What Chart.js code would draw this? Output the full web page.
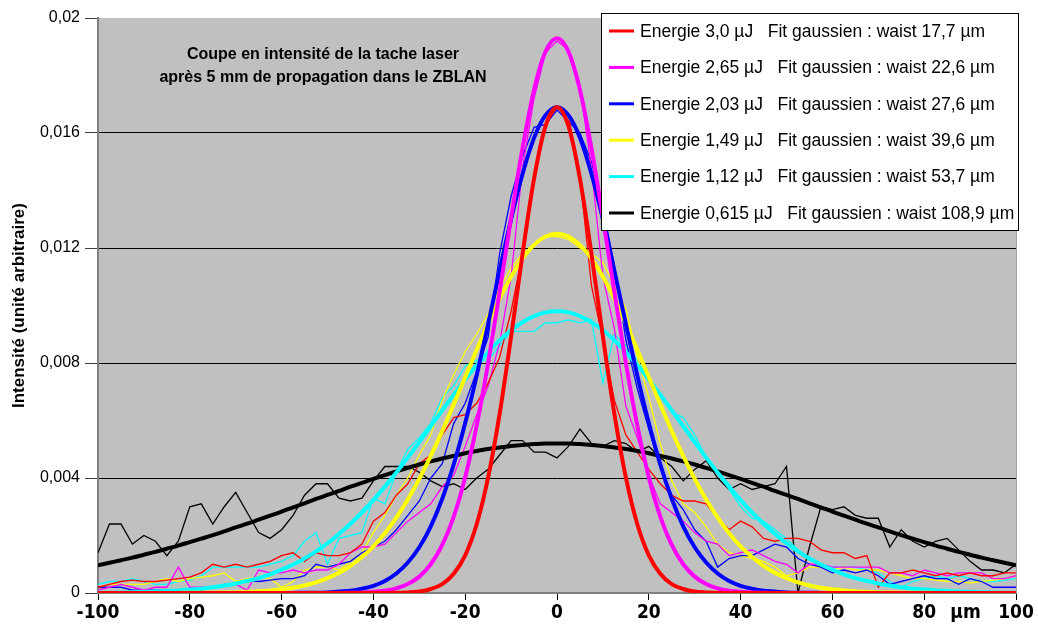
<!DOCTYPE html>
<html>
<head>
<meta charset="utf-8">
<script src="https://cdn.jsdelivr.net/npm/chart.js@4"></script>
<style>
  html, body { margin: 0; padding: 0; background: #ffffff; }
  #wrap { width: 1038px; height: 640px; }
</style>
</head>
<body>
<div id="wrap"><canvas id="profile-chart"></canvas></div>
<script>
// transverse positions (µm), shared by every curve
const positions = [
  -100, -97.5, -95, -92.5, -90, -87.5, -85, -82.5, -80, -77.5,
  -75, -72.5, -70, -67.5, -65, -62.5, -60, -57.5, -55, -52.5,
  -50, -47.5, -45, -42.5, -40, -37.5, -35, -32.5, -30, -27.5,
  -25, -22.5, -20, -17.5, -15, -12.5, -10, -7.5, -5, -2.5,
  0,
  2.5, 5, 7.5, 10, 12.5, 15, 17.5, 20, 22.5, 25,
  27.5, 30, 32.5, 35, 37.5, 40, 42.5, 45, 47.5, 50,
  52.5, 55, 57.5, 60, 62.5, 65, 67.5, 70, 72.5, 75,
  77.5, 80, 82.5, 85, 87.5, 90, 92.5, 95, 97.5, 100
];

const energyLabels = ["Energie 3,0 µJ", "Energie 2,65 µJ", "Energie 2,03 µJ", "Energie 1,49 µJ", "Energie 1,12 µJ", "Energie 0,615 µJ"];
const fitLabels = ["Fit gaussien : waist 17,7 µm", "Fit gaussien : waist 22,6 µm", "Fit gaussien : waist 27,6 µm", "Fit gaussien : waist 39,6 µm", "Fit gaussien : waist 53,7 µm", "Fit gaussien : waist 108,9 µm"];
const seriesColors = ["#ff0000", "#ff00ff", "#0000ff", "#ffff00", "#00ffff", "#000000"];
const yTickLabels = ["0", "0,004", "0,008", "0,012", "0,016", "0,02"];
const titleLines = ["Coupe en intensité de la tache laser", "après 5 mm de propagation dans le ZBLAN"];
const xUnitLabel = "µm";
const yAxisTitle = "Intensité (unité arbitraire)";

// measured profiles
const redData = [
  0.0002, 0.0003, 0.0004, 0.00045, 0.0004, 0.0004, 0.00045, 0.0005, 0.00055, 0.0007,
  0.001, 0.0009, 0.001, 0.0009, 0.001, 0.0011, 0.0013, 0.0014, 0.0011, 0.0014,
  0.0013, 0.0013, 0.0014, 0.0017, 0.0025, 0.0028, 0.0034, 0.0038, 0.0045, 0.0048,
  0.0055, 0.0061, 0.0062, 0.0066, 0.0073, 0.0082, 0.0098, 0.0118, 0.0143, 0.0163,
  0.0169,
  0.0166, 0.0145, 0.0107, 0.0088, 0.0067, 0.0055, 0.0049, 0.0043, 0.0038, 0.0034,
  0.0032, 0.0032, 0.0031, 0.0026, 0.0022, 0.0025, 0.0023, 0.0019, 0.0018, 0.0019,
  0.0019, 0.0018, 0.0015, 0.0014, 0.0014, 0.0012, 0.0013, 0.0002, 0.0007, 0.0007,
  0.0008, 0.0007, 0.0006, 0.0007, 0.0006, 0.0007, 0.0006, 0.0006, 0.0007, 0.0007
];
const magentaData = [
  0.0001, 0.0002, 0.0003, 0.0002, 0.0001, 0.0002, 0.0002, 0.0009, 0.0002, 0.0002,
  0.0002, 0.0003, 0.0003, 0.0001, 0.0008, 0.0007, 0.0007, 0.0008, 0.0007, 0.0008,
  0.0008, 0.001, 0.0014, 0.0016, 0.0016, 0.0017, 0.0021, 0.0025, 0.0028, 0.0031,
  0.0037, 0.0041, 0.0051, 0.0062, 0.0072, 0.0087, 0.011, 0.0148, 0.0172, 0.0188,
  0.0192,
  0.0189, 0.0176, 0.0148, 0.011, 0.0092, 0.0065, 0.0054, 0.0041, 0.0031, 0.0028,
  0.0025, 0.0021, 0.0018, 0.0017, 0.0013, 0.0014, 0.0015, 0.0013, 0.0011, 0.001,
  0.0007, 0.001, 0.001, 0.0009, 0.0009, 0.0009, 0.0009, 0.0009, 0.0007, 0.0007,
  0.0006, 0.0008, 0.0007, 0.0006, 0.0007, 0.0007, 0.0007, 0.0005, 0.0005, 0.0006
];
const blueData = [
  0.0002, 0.0002, 0.0002, 0.0001, 0.0001, 0.0001, 0.0001, 0.0001, 0.0001, 0.0001,
  0.0002, 0.0003, 0.0003, 0.00045, 0.0004, 0.00045, 0.0005, 0.0005, 0.0006, 0.001,
  0.0009, 0.001, 0.0011, 0.0014, 0.0016, 0.0018, 0.0022, 0.0027, 0.0032, 0.004,
  0.0045, 0.0059, 0.0066, 0.0077, 0.0089, 0.0118, 0.0138, 0.0152, 0.0162, 0.0163,
  0.0168,
  0.0164, 0.016, 0.015, 0.0134, 0.0114, 0.0088, 0.0071, 0.0057, 0.0044, 0.0034,
  0.0029, 0.0022, 0.0018, 0.0009, 0.0012, 0.0013, 0.0013, 0.0015, 0.0017, 0.0016,
  0.0012, 0.001, 0.0009, 0.0007, 0.0008, 0.0007, 0.0008, 0.0006, 0.0003, 0.0004,
  0.0005, 0.0006, 0.0005, 0.0005, 0.0003, 0.0005, 0.0004, 0.0002, 0.0002, 0.0002
];
const yellowData = [
  0.0002, 0.0003, 0.0003, 0.0003, 0.0003, 0.0004, 0.0005, 0.0004, 0.0005, 0.00055,
  0.0006, 0.0007, 0.0004, 0.0005, 0.00055, 0.0005, 0.0002, 0.0004, 0.0008, 0.0009,
  0.0009, 0.0008, 0.0011, 0.0014, 0.0021, 0.0027, 0.0034, 0.004, 0.0048, 0.0055,
  0.0067, 0.0076, 0.0084, 0.009, 0.0097, 0.0106, 0.0113, 0.0118, 0.0121, 0.0124,
  0.0124,
  0.0123, 0.012, 0.0118, 0.0115, 0.0107, 0.0099, 0.0082, 0.0068, 0.0052, 0.0039,
  0.0031, 0.0028, 0.0023, 0.0017, 0.0014, 0.0013, 0.0012, 0.0011, 0.0009, 0.0006,
  0.0007, 0.0009, 0.0009, 0.0008, 0.0009, 0.0008, 0.0008, 0.0008, 0.0007, 0.0006,
  0.0005, 0.0005, 0.00045, 0.0004, 0.0004, 0.00035, 0.0004, 0.00045, 0.0005, 0.0006
];
const cyanData = [
  0.0003, 0.0004, 0.0004, 0.0005, 0.0004, 0.0003, 0.0003, 0.0004, 0.00045, 0.0006,
  0.0009, 0.0009, 0.0009, 0.0009, 0.0009, 0.001, 0.0011, 0.0013, 0.0018, 0.0021,
  0.001, 0.0019, 0.002, 0.0021, 0.0033, 0.0031, 0.0042, 0.005, 0.0054, 0.0059,
  0.0068, 0.0072, 0.0079, 0.0081, 0.0081, 0.0086, 0.0091, 0.0091, 0.0091, 0.0094,
  0.0094,
  0.0095, 0.0094, 0.0095, 0.0073, 0.009, 0.0086, 0.0081, 0.0074, 0.0069, 0.0063,
  0.0061, 0.0055, 0.0047, 0.0042, 0.0036, 0.003, 0.0026, 0.0025, 0.0022, 0.0019,
  0.0015, 0.0012, 0.001, 0.0009, 0.0009, 0.0009, 0.0008, 0.0007, 0.0004, 0.0002,
  0.0004, 0.0005, 0.0006, 0.0005, 0.0006, 0.0005, 0.0004, 0.0004, 0.00045, 0.0005
];
const blackData = [
  0.0014, 0.0024, 0.0024, 0.0017, 0.002, 0.0018, 0.0013, 0.0018, 0.003, 0.0031,
  0.0024, 0.003, 0.0035, 0.0028, 0.0021, 0.0019, 0.0022, 0.0027, 0.0034, 0.0038,
  0.0038, 0.0033, 0.0032, 0.0033, 0.0039, 0.0044, 0.0044, 0.0044, 0.0042, 0.0039,
  0.0037, 0.0038, 0.0036, 0.004, 0.0043, 0.0048, 0.0053, 0.0053, 0.0049, 0.0049,
  0.0047,
  0.0051, 0.0057, 0.0052, 0.0051, 0.0053, 0.0052, 0.0049, 0.0051, 0.0047, 0.0044,
  0.0039, 0.0043, 0.0046, 0.004, 0.0036, 0.0038, 0.0036, 0.0037, 0.0038, 0.0044,
  0, 0.0016, 0.003, 0.0029, 0.003, 0.0027, 0.0026, 0.0026, 0.0016, 0.0022,
  0.0018, 0.0016, 0.0018, 0.0019, 0.0015, 0.0011, 0.0008, 0.0008, 0.0007, 0.001
];

// gaussian fits
const redFit = [
  0, 0, 0, 0, 0, 0, 0, 0, 0, 0,
  0, 0, 0, 0, 0, 0, 0, 0, 0, 0,
  0, 0, 0, 0, 0, 0, 0.00001, 0.00002, 0.00005, 0.00014,
  0.00031, 0.00067, 0.00131, 0.00239, 0.00402, 0.00623, 0.00892, 0.0118, 0.01441, 0.01624,
  0.0169,
  0.01624, 0.01441, 0.0118, 0.00892, 0.00623, 0.00402, 0.00239, 0.00131, 0.00067, 0.00031,
  0.00014, 0.00005, 0.00002, 0.00001, 0, 0, 0, 0, 0, 0,
  0, 0, 0, 0, 0, 0, 0, 0, 0, 0,
  0, 0, 0, 0, 0, 0, 0, 0, 0, 0
];
const magentaFit = [
  0, 0, 0, 0, 0, 0, 0, 0, 0, 0,
  0, 0, 0, 0, 0, 0, 0, 0, 0, 0,
  0, 0, 0.00001, 0.00002, 0.00004, 0.00008, 0.00016, 0.00031, 0.00057, 0.001,
  0.00167, 0.00266, 0.00403, 0.00582, 0.008, 0.01047, 0.01305, 0.01548, 0.0175, 0.01883,
  0.0193,
  0.01883, 0.0175, 0.01548, 0.01305, 0.01047, 0.008, 0.00582, 0.00403, 0.00266, 0.00167,
  0.001, 0.00057, 0.00031, 0.00016, 0.00008, 0.00004, 0.00002, 0.00001, 0, 0,
  0, 0, 0, 0, 0, 0, 0, 0, 0, 0,
  0, 0, 0, 0, 0, 0, 0, 0, 0, 0
];
const blueFit = [
  0, 0, 0, 0, 0, 0, 0, 0, 0, 0,
  0, 0, 0, 0, 0, 0, 0, 0, 0.00001, 0.00001,
  0.00002, 0.00005, 0.00008, 0.00015, 0.00025, 0.00042, 0.00068, 0.00106, 0.00159, 0.00232,
  0.00328, 0.00447, 0.00591, 0.00756, 0.00936, 0.01121, 0.013, 0.01458, 0.01583, 0.01662,
  0.0169,
  0.01662, 0.01583, 0.01458, 0.013, 0.01121, 0.00936, 0.00756, 0.00591, 0.00447, 0.00328,
  0.00232, 0.00159, 0.00106, 0.00068, 0.00042, 0.00025, 0.00015, 0.00008, 0.00005, 0.00002,
  0.00001, 0.00001, 0, 0, 0, 0, 0, 0, 0, 0,
  0, 0, 0, 0, 0, 0, 0, 0, 0, 0
];
const yellowFit = [
  0, 0, 0, 0, 0, 0, 0, 0, 0.00001, 0.00001,
  0.00001, 0.00002, 0.00002, 0.00004, 0.00006, 0.00009, 0.00013, 0.00018, 0.00026, 0.00037,
  0.00052, 0.0007, 0.00094, 0.00125, 0.00162, 0.00208, 0.00262, 0.00325, 0.00397, 0.00477,
  0.00563, 0.00656, 0.00751, 0.00846, 0.00938, 0.01024, 0.011, 0.01164, 0.01211, 0.0124,
  0.0125,
  0.0124, 0.01211, 0.01164, 0.011, 0.01024, 0.00938, 0.00846, 0.00751, 0.00656, 0.00563,
  0.00477, 0.00397, 0.00325, 0.00262, 0.00208, 0.00162, 0.00125, 0.00094, 0.0007, 0.00052,
  0.00037, 0.00026, 0.00018, 0.00013, 0.00009, 0.00006, 0.00004, 0.00002, 0.00002, 0.00001,
  0.00001, 0.00001, 0, 0, 0, 0, 0, 0, 0, 0
];
const cyanFit = [
  0.00001, 0.00001, 0.00002, 0.00003, 0.00004, 0.00005, 0.00007, 0.00009, 0.00012, 0.00015,
  0.0002, 0.00026, 0.00033, 0.00042, 0.00052, 0.00065, 0.00081, 0.00099, 0.0012, 0.00145,
  0.00173, 0.00205, 0.00241, 0.0028, 0.00323, 0.0037, 0.00419, 0.00471, 0.00525, 0.0058,
  0.00635, 0.0069, 0.00743, 0.00792, 0.00838, 0.00879, 0.00914, 0.00942, 0.00963, 0.00976,
  0.0098,
  0.00976, 0.00963, 0.00942, 0.00914, 0.00879, 0.00838, 0.00792, 0.00743, 0.0069, 0.00635,
  0.0058, 0.00525, 0.00471, 0.00419, 0.0037, 0.00323, 0.0028, 0.00241, 0.00205, 0.00173,
  0.00145, 0.0012, 0.00099, 0.00081, 0.00065, 0.00052, 0.00042, 0.00033, 0.00026, 0.0002,
  0.00015, 0.00012, 0.00009, 0.00007, 0.00005, 0.00004, 0.00003, 0.00002, 0.00001, 0.00001
];
const blackFit = [
  0.00096, 0.00105, 0.00114, 0.00123, 0.00133, 0.00143, 0.00154, 0.00165, 0.00177, 0.00189,
  0.00201, 0.00214, 0.00228, 0.00241, 0.00255, 0.00269, 0.00283, 0.00298, 0.00312, 0.00327,
  0.00341, 0.00355, 0.0037, 0.00383, 0.00397, 0.0041, 0.00423, 0.00435, 0.00447, 0.00458,
  0.00468, 0.00477, 0.00486, 0.00494, 0.00501, 0.00506, 0.00511, 0.00515, 0.00518, 0.0052,
  0.0052,
  0.0052, 0.00518, 0.00515, 0.00511, 0.00506, 0.00501, 0.00494, 0.00486, 0.00477, 0.00468,
  0.00458, 0.00447, 0.00435, 0.00423, 0.0041, 0.00397, 0.00383, 0.0037, 0.00355, 0.00341,
  0.00327, 0.00312, 0.00298, 0.00283, 0.00269, 0.00255, 0.00241, 0.00228, 0.00214, 0.00201,
  0.00189, 0.00177, 0.00165, 0.00154, 0.00143, 0.00133, 0.00123, 0.00114, 0.00105, 0.00096
];

const measured = [redData, magentaData, blueData, yellowData, cyanData, blackData];
const fitted = [redFit, magentaFit, blueFit, yellowFit, cyanFit, blackFit];

const NARROW_BOLD = "'Liberation Sans Narrow', 'DejaVu Sans Condensed', 'Liberation Sans', sans-serif";
const SANS = "'Liberation Sans', Arial, sans-serif";

const toPoints = values => positions.map((x, i) => ({ x, y: values[i] }));

const datasets = [];
fitted.forEach((values, i) => {
  datasets.push({
    label: fitLabels[i],
    data: toPoints(values),
    borderColor: seriesColors[i],
    borderWidth: 4,
    pointRadius: 0,
    cubicInterpolationMode: "monotone"
  });
});
measured.forEach((values, i) => {
  datasets.push({
    label: energyLabels[i],
    data: toPoints(values),
    borderColor: seriesColors[i],
    borderWidth: 1.3,
    pointRadius: 0,
    tension: 0
  });
});

// grey plot area behind the curves
const plotBackground = {
  id: "plotBackground",
  beforeDraw(chart) {
    const { ctx, chartArea: a } = chart;
    ctx.save();
    ctx.fillStyle = "#c0c0c0";
    ctx.fillRect(a.left, a.top, a.right - a.left, a.bottom - a.top);
    ctx.restore();
  }
};

// right border, inset title, unit label and the boxed legend
const overlay = {
  id: "overlay",
  afterDraw(chart) {
    const { ctx, chartArea: a, scales } = chart;
    ctx.save();

    ctx.strokeStyle = "#a0a0a0";
    ctx.lineWidth = 1;
    ctx.beginPath();
    ctx.moveTo(a.right + 0.5, a.top);
    ctx.lineTo(a.right + 0.5, a.bottom);
    ctx.stroke();

    ctx.fillStyle = "#000";
    ctx.font = "bold 16px " + SANS;
    ctx.textAlign = "center";
    ctx.textBaseline = "middle";
    ctx.fillText(titleLines[0], 323, 55);
    ctx.fillText(titleLines[1], 323, 78);

    ctx.font = "bold 19px " + NARROW_BOLD;
    ctx.fillText(xUnitLabel, scales.x.getPixelForValue(89), 613);

    const box = { x: 601.5, y: 13.5, w: 417, h: 217 };
    ctx.fillStyle = "#ffffff";
    ctx.fillRect(box.x, box.y, box.w, box.h);
    ctx.strokeStyle = "#000";
    ctx.lineWidth = 1;
    ctx.strokeRect(box.x, box.y, box.w, box.h);

    ctx.font = "17.5px " + SANS;
    ctx.textAlign = "left";
    energyLabels.forEach((label, i) => {
      const y = 31 + i * 36.4;
      ctx.strokeStyle = seriesColors[i];
      ctx.lineWidth = 3;
      ctx.beginPath();
      ctx.moveTo(609, y);
      ctx.lineTo(634, y);
      ctx.stroke();
      ctx.fillStyle = "#000";
      ctx.fillText(label + "   " + fitLabels[i], 640, y + 1);
    });
    ctx.restore();
  }
};

new Chart(document.getElementById("profile-chart"), {
  type: "line",
  data: { datasets },
  options: {
    responsive: true,
    maintainAspectRatio: false,
    animation: false,
    layout: { padding: { top: 18, right: 22, left: 0, bottom: 0 } },
    plugins: {
      legend: { display: false },
      tooltip: { enabled: false }
    },
    scales: {
      x: {
        type: "linear",
        min: -100,
        max: 100,
        afterFit: scale => { scale.height = 47; },
        ticks: {
          stepSize: 20,
          padding: 2,
          color: "#000",
          font: { family: NARROW_BOLD, size: 19, weight: "bold" }
        },
        grid: {
          drawOnChartArea: false,
          tickLength: 7,
          tickColor: "#000"
        },
        border: { color: "#808080", width: 2 }
      },
      y: {
        min: 0,
        max: 0.02,
        afterFit: scale => { scale.width = 98; },
        ticks: {
          stepSize: 0.004,
          padding: 5,
          color: "#000",
          font: { family: SANS, size: 16 },
          callback: (value, index) => yTickLabels[index]
        },
        grid: {
          color: ctx => (ctx.tick && ctx.tick.value > 0 && ctx.tick.value < 0.0199) ? "#000" : "transparent",
          tickLength: 13,
          tickColor: "#404040"
        },
        border: { color: "#808080", width: 2 },
        title: {
          display: true,
          text: yAxisTitle,
          color: "#000",
          font: { family: SANS, size: 17, weight: "bold" },
          padding: { top: 9, bottom: 0 }
        }
      }
    }
  },
  plugins: [plotBackground, overlay]
});
</script>
</body>
</html>
